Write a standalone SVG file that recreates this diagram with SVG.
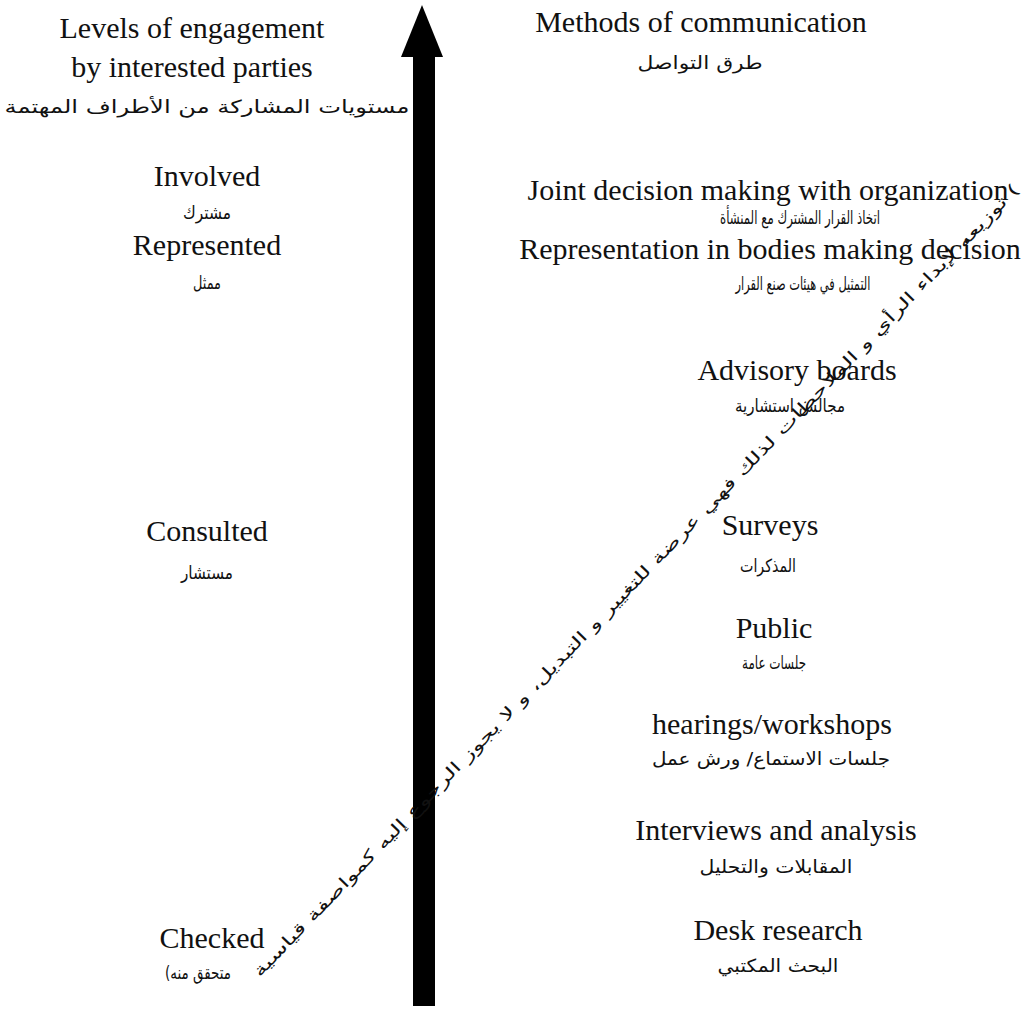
<svg xmlns="http://www.w3.org/2000/svg" width="1024" height="1010" viewBox="0 0 1024 1010">
<style>
.en{font-family:"Liberation Serif","Times New Roman",serif;font-size:30px;fill:#111;text-anchor:middle}
.ar{font-family:"DejaVu Sans","Noto Sans",sans-serif;font-size:18px;fill:#111;text-anchor:middle}
.wm{font-family:"DejaVu Sans","Noto Sans",sans-serif;font-size:16px;fill:#111;text-anchor:middle}
</style>
<rect width="1024" height="1010" fill="#fff"/>
<g id="connectors">
<rect x="413" y="50" width="22" height="956" fill="#000"/>
<polygon points="422,5 443,57 401,57" fill="#000"/>
</g>
<g id="left-title">
<text class="en" x="192" y="38">Levels of engagement</text>
<text class="en" x="192" y="77">by interested parties</text>
<text class="ar" x="207" y="113" textLength="405" lengthAdjust="spacingAndGlyphs">مستويات المشاركة من الأطراف المهتمة</text>
</g>
<g id="involved">
<text class="en" x="207" y="186">Involved</text>
<text class="ar" x="207" y="219" textLength="48" lengthAdjust="spacingAndGlyphs">مشترك</text>
</g>
<g id="represented">
<text class="en" x="207" y="255">Represented</text>
<text class="ar" x="207" y="289" textLength="28" lengthAdjust="spacingAndGlyphs">ممثل</text>
</g>
<g id="consulted">
<text class="en" x="207" y="541">Consulted</text>
<text class="ar" x="207" y="579" textLength="52" lengthAdjust="spacingAndGlyphs">مستشار</text>
</g>
<g id="checked">
<text class="en" x="212" y="948">Checked</text>
<text class="ar" x="198" y="979" textLength="66" lengthAdjust="spacingAndGlyphs">(متحقق منه</text>
</g>
<g id="right-title">
<text class="en" x="701" y="32">Methods of communication</text>
<text class="ar" x="700" y="69" textLength="125" lengthAdjust="spacingAndGlyphs">طرق التواصل</text>
</g>
<g id="joint">
<text class="en" x="768" y="200">Joint decision making with organization</text>
<text class="ar" x="800" y="224" textLength="160" lengthAdjust="spacingAndGlyphs">اتخاذ القرار المشترك مع المنشأة</text>
</g>
<g id="representation">
<text class="en" x="770" y="259">Representation in bodies making decision</text>
<text class="ar" x="803" y="290" textLength="135" lengthAdjust="spacingAndGlyphs">التمثيل في هيئات صنع القرار</text>
</g>
<g id="advisory">
<text class="en" x="797" y="380">Advisory boards</text>
<text class="ar" x="790" y="412" textLength="110" lengthAdjust="spacingAndGlyphs">مجالس استشارية</text>
</g>
<g id="surveys">
<text class="en" x="770" y="535">Surveys</text>
<text class="ar" x="768" y="572" textLength="56" lengthAdjust="spacingAndGlyphs">المذكرات</text>
</g>
<g id="public">
<text class="en" x="774" y="638">Public</text>
<text class="ar" x="774" y="669" textLength="64" lengthAdjust="spacingAndGlyphs">جلسات عامة</text>
</g>
<g id="hearings">
<text class="en" x="772" y="734">hearings/workshops</text>
<text class="ar" x="771" y="765" textLength="238" lengthAdjust="spacingAndGlyphs">جلسات الاستماع/ ورش عمل</text>
</g>
<g id="interviews">
<text class="en" x="776" y="840">Interviews and analysis</text>
<text class="ar" x="776" y="873" textLength="153" lengthAdjust="spacingAndGlyphs">المقابلات والتحليل</text>
</g>
<g id="desk">
<text class="en" x="778" y="940">Desk research</text>
<text class="ar" x="778" y="972" textLength="121" lengthAdjust="spacingAndGlyphs">البحث المكتبي</text>
</g>
<g id="watermark">
<text class="wm" transform="translate(640,584) rotate(-46)" textLength="1095" lengthAdjust="spacingAndGlyphs">توزيعه لإبداء الرأي و الملاحظات لذلك فهي عرضة للتغيير و التبديل، و لا يجوز الرجوع إليه كمواصفة قياسية (</text>
</g>
</svg>
